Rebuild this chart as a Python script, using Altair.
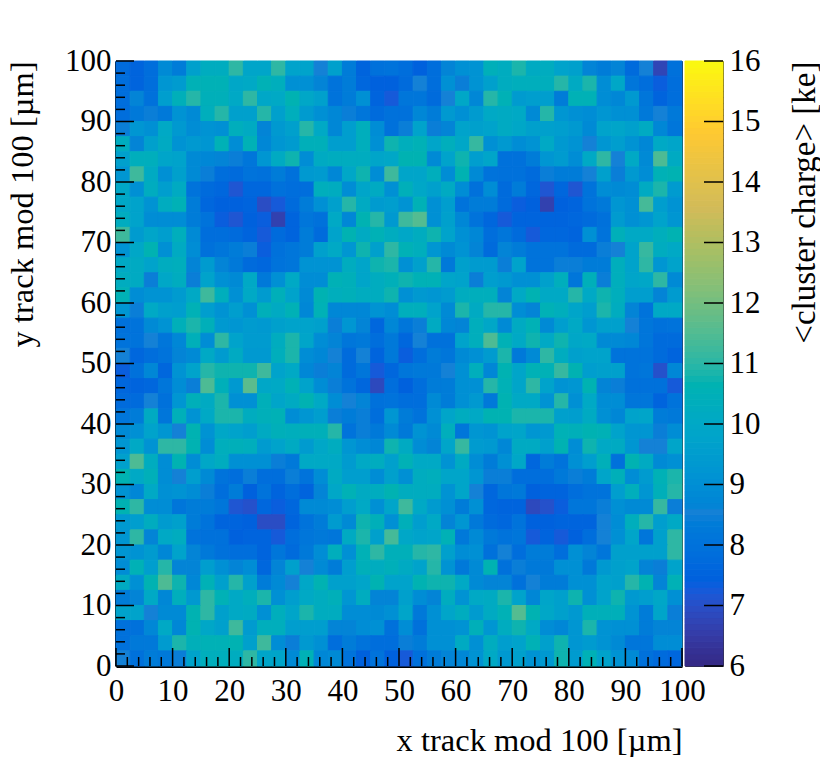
import altair as alt
import pandas as pd

# mean cluster charge in ke, one list per row, top row (y 97.5-100) first
charge_rows = [
    [7.7,7.5,7.8,8.8,8.3,9.6,10.2,10.2,11.0,9.8,9.8,11.0,9.7,9.7,8.5,9.6,8.3,7.5,7.9,8.0, 7.8,7.4,7.8,8.6,9.0,9.1,10.4,10.2,10.8,10.1,10.2,9.7,9.6,8.6,8.3,8.6,7.7,8.5,6.7,7.9],
    [7.8,7.5,7.8,9.2,9.4,10.5,10.5,10.5,9.9,10.0,10.5,10.3,9.0,9.0,8.6,8.0,8.3,7.6,7.4,7.4, 7.7,8.5,7.8,9.0,8.4,9.1,9.6,10.2,10.3,10.3,10.3,10.9,10.1,10.8,8.9,9.9,8.1,7.8,7.3,7.8],
    [7.8,8.6,7.9,9.5,10.4,10.9,10.4,10.4,10.0,11.0,9.9,10.0,10.6,9.9,9.6,8.0,8.3,9.0,7.5,7.2, 8.1,8.1,7.7,8.5,9.9,8.7,10.9,10.5,9.4,9.5,9.5,8.3,10.5,10.5,8.9,8.7,9.3,8.1,7.5,7.8],
    [7.8,8.2,8.4,8.2,9.1,8.8,10.3,10.9,9.6,9.6,10.9,9.6,10.3,9.4,9.0,8.7,8.4,8.1,7.7,7.9, 7.9,8.7,8.3,9.3,9.0,9.4,10.0,10.1,10.0,8.8,10.9,9.2,9.0,8.9,9.2,9.0,9.0,8.2,8.5,8.2],
    [8.4,9.2,9.0,10.0,9.3,8.9,9.1,9.0,10.3,10.1,8.6,9.3,9.6,10.9,10.0,8.7,9.5,10.3,8.9,7.9, 8.4,9.7,8.4,8.6,9.7,9.6,9.7,10.1,9.9,9.6,9.6,9.5,9.3,8.8,9.7,9.8,9.6,10.1,8.7,8.1],
    [10.2,8.6,9.6,10.1,9.1,9.3,9.2,10.5,8.9,10.5,8.7,9.2,9.4,10.4,10.4,9.5,9.5,10.3,9.0,10.7, 10.3,10.5,9.8,10.3,9.9,11.1,9.0,9.3,8.9,9.1,10.0,9.3,9.1,8.5,9.2,9.5,9.1,8.7,10.0,9.8],
    [9.6,10.3,10.3,9.8,9.7,8.8,8.7,8.6,8.4,8.1,9.2,10.1,10.7,8.9,10.1,10.2,10.2,10.2,9.8,9.9, 10.6,10.6,8.8,9.7,10.7,9.5,9.8,7.9,7.9,8.3,9.2,9.4,8.9,10.0,11.0,8.5,10.0,8.8,11.4,10.1],
    [9.2,11.2,10.1,9.0,9.6,8.8,8.4,7.8,7.7,8.0,7.9,8.3,7.9,9.3,9.4,8.7,9.9,10.7,8.9,11.2, 9.8,9.8,10.3,8.9,10.6,8.8,8.0,7.9,7.9,7.7,8.4,8.3,8.3,8.5,9.6,8.4,9.3,8.9,10.5,10.6],
    [9.9,9.0,10.2,9.5,10.1,8.0,7.7,7.6,7.1,7.6,7.6,7.9,7.8,7.8,10.3,10.2,8.9,9.8,10.1,9.0, 10.4,9.9,9.6,10.1,8.9,7.9,8.9,7.7,8.3,7.6,7.1,7.6,7.1,8.0,8.9,8.8,8.9,10.1,10.8,9.4],
    [9.9,9.7,9.1,10.2,10.5,8.3,7.6,7.4,7.4,7.5,6.9,7.2,7.7,8.3,9.0,9.6,10.9,10.1,9.4,9.5, 9.1,10.5,9.0,9.5,8.0,8.3,8.3,7.7,7.3,7.4,6.6,7.4,7.5,8.0,8.2,9.2,9.0,11.3,9.5,9.1],
    [10.2,9.7,8.9,8.9,8.9,8.3,8.0,7.3,7.1,7.4,7.3,6.6,7.5,8.1,7.9,10.0,8.7,10.6,10.9,9.3, 11.2,11.5,9.0,9.6,8.7,8.0,7.6,7.2,7.5,7.5,7.5,7.5,7.6,7.7,7.9,9.4,9.0,9.2,9.7,9.2],
    [11.2,9.4,9.8,9.5,10.3,8.8,7.8,7.8,7.7,7.5,7.2,7.7,7.5,8.3,7.7,9.7,10.6,10.1,10.5,10.2, 9.9,10.2,10.7,9.7,9.0,8.7,7.8,8.1,7.7,7.2,7.6,7.6,7.5,9.0,8.0,10.4,10.0,10.0,10.3,10.6],
    [9.1,9.9,10.6,9.0,10.1,8.9,7.9,8.1,8.3,8.4,7.3,7.9,8.1,8.3,9.6,10.0,9.2,10.7,9.6,11.0, 10.5,10.3,9.2,8.8,9.1,8.6,7.7,8.6,8.3,8.0,8.0,8.0,7.7,7.7,8.4,8.5,9.7,11.1,10.2,10.0],
    [10.0,10.1,9.7,10.2,10.3,8.6,9.4,8.6,8.2,7.7,7.6,8.0,8.1,9.1,9.1,9.1,10.2,9.8,10.7,10.8, 9.0,9.6,10.9,8.2,9.6,9.4,9.4,8.4,9.7,8.0,8.0,8.4,8.4,8.3,8.3,10.3,9.7,11.0,9.2,9.7],
    [10.2,10.1,8.4,9.9,10.2,8.4,9.7,9.0,8.8,10.0,8.2,9.0,10.0,8.9,8.9,10.5,10.4,9.8,10.2,10.4, 10.7,10.5,10.5,9.8,9.7,8.4,9.5,9.3,9.0,9.0,9.6,10.3,8.1,10.4,8.4,10.3,9.8,9.9,11.0,8.8],
    [10.5,8.9,9.1,9.1,9.4,10.0,11.2,10.3,9.0,10.0,9.4,10.4,9.7,8.8,10.6,10.3,10.4,10.2,10.2,10.7, 9.0,9.3,9.2,9.4,10.2,10.3,10.3,8.6,10.0,10.6,10.0,10.0,10.9,10.0,10.7,10.3,9.5,9.5,8.6,9.4],
    [9.2,8.4,10.0,9.6,9.5,10.5,9.5,9.1,9.5,9.0,10.4,10.1,10.5,8.7,10.5,8.7,8.7,8.7,9.1,8.9, 10.3,10.3,9.7,8.8,10.8,10.1,10.9,10.9,8.9,8.6,10.5,10.3,9.8,9.5,10.8,10.2,8.6,8.0,10.0,10.0],
    [7.9,8.0,8.8,9.1,10.4,10.8,10.4,9.3,9.2,9.4,9.3,9.6,9.7,9.7,9.6,8.4,9.2,8.6,7.6,8.7, 8.1,8.4,10.1,8.7,8.6,10.3,9.9,8.8,10.1,10.5,8.8,9.5,10.0,9.2,9.6,9.6,8.5,8.1,7.9,8.0],
    [8.0,8.0,8.5,8.1,8.7,10.4,8.9,11.0,9.7,9.4,9.4,10.2,10.8,9.8,8.9,8.6,8.1,8.2,7.8,8.2, 7.6,8.5,7.9,7.9,9.7,10.3,11.4,10.5,10.0,10.7,10.0,10.7,9.9,10.0,8.8,8.8,8.7,8.1,7.7,7.7],
    [8.5,7.6,7.8,8.0,8.6,8.8,10.0,9.4,10.1,9.3,9.3,10.3,10.8,8.9,8.7,8.5,7.7,8.5,7.5,8.2, 7.3,7.8,8.3,8.1,8.8,9.0,9.4,10.8,8.2,8.8,11.0,10.2,9.6,9.7,9.7,8.0,8.0,8.0,7.7,7.5],
    [7.3,7.9,8.7,7.6,9.1,9.7,10.9,10.7,10.7,10.7,11.2,9.7,10.0,8.7,8.4,8.6,7.7,8.1,7.2,7.6, 8.1,8.2,8.2,8.5,9.0,10.3,8.7,10.6,9.8,10.5,10.5,11.1,10.6,9.5,9.6,9.6,8.0,8.1,7.0,8.7],
    [7.6,7.5,7.6,8.1,8.9,8.4,11.4,10.4,9.3,11.6,9.9,10.0,10.5,9.7,8.9,8.4,8.0,7.6,6.8,7.8, 7.4,7.8,8.3,8.3,9.0,9.0,10.9,10.5,9.8,11.0,9.7,9.1,9.2,10.6,8.6,8.4,7.9,7.9,7.9,7.2],
    [7.7,7.7,8.5,7.9,9.2,10.4,10.1,10.8,9.0,9.0,10.4,9.8,10.1,10.6,10.0,8.9,8.5,8.6,7.9,8.0, 7.8,7.8,8.8,8.3,9.0,9.3,8.2,10.6,10.0,10.0,9.1,10.9,9.0,10.0,8.9,8.9,8.1,8.1,7.5,8.0],
    [8.1,8.3,10.1,8.1,10.4,9.1,10.0,10.8,10.8,10.2,10.4,10.5,8.9,9.2,9.5,8.4,8.3,8.4,7.8,9.2, 8.3,8.0,9.0,9.8,10.2,10.0,10.6,10.6,10.8,10.8,10.8,9.6,9.5,10.1,9.0,8.7,9.7,9.8,8.3,8.2],
    [8.8,9.0,9.7,9.2,8.5,10.6,9.1,9.9,9.7,9.5,10.1,10.4,10.3,10.4,10.4,10.9,8.0,8.4,8.2,8.8, 8.2,9.1,8.8,10.3,8.1,9.2,9.1,9.7,9.8,9.2,9.3,10.5,10.4,10.6,10.5,9.7,9.2,9.2,8.4,8.9],
    [9.2,10.0,9.1,11.0,11.0,10.6,8.9,10.3,10.4,10.3,9.4,9.7,10.1,9.4,9.9,10.2,9.2,8.9,8.7,10.7, 10.1,8.9,8.6,9.8,11.1,9.4,9.3,8.7,10.1,10.1,9.6,10.6,8.9,10.7,10.0,10.1,9.2,8.5,8.5,9.8],
    [9.6,11.4,10.2,8.9,10.6,8.9,9.9,10.2,9.0,9.0,9.0,8.4,8.2,10.0,10.0,10.0,9.4,10.0,10.2,9.6, 10.5,10.0,10.0,9.1,10.1,8.9,8.3,9.0,9.9,7.6,8.3,8.0,9.0,9.5,10.4,7.9,10.6,10.1,8.8,9.0],
    [10.6,10.0,10.4,8.9,8.5,9.5,8.8,8.0,7.8,8.4,7.8,7.8,8.4,8.0,8.9,10.1,9.5,9.5,8.9,9.6, 9.0,10.2,10.3,9.8,9.8,9.2,8.4,8.4,7.8,7.8,7.8,8.2,8.4,8.3,9.8,10.4,8.9,9.4,10.5,10.8],
    [9.1,8.7,10.0,9.0,9.1,8.9,8.4,7.8,8.3,7.4,8.0,7.5,7.8,7.5,8.6,9.9,10.5,10.1,10.2,10.6, 10.2,10.2,10.2,9.1,9.8,8.5,7.6,8.1,8.2,7.4,7.5,7.5,7.8,8.0,8.0,9.5,10.3,9.2,10.4,10.9],
    [10.6,11.0,8.9,8.9,8.1,8.3,8.3,8.1,7.1,7.0,7.6,7.3,7.6,8.8,8.8,8.9,9.5,10.0,9.0,9.8, 11.2,10.0,9.4,9.0,8.3,9.0,7.6,7.5,7.5,6.8,7.0,7.3,8.1,8.1,8.4,9.0,8.8,8.8,11.1,8.4],
    [9.3,9.5,10.2,9.4,9.6,8.3,8.0,7.5,7.5,7.4,6.9,6.9,7.5,8.0,8.3,9.4,8.8,10.7,10.4,9.0, 10.4,9.5,10.0,8.6,9.2,8.2,7.7,7.6,8.0,7.4,7.4,7.5,7.5,7.5,8.5,8.9,10.3,10.9,9.5,10.0],
    [9.2,11.0,8.6,10.0,10.2,8.0,7.9,7.9,7.4,7.5,7.5,7.2,7.8,8.1,8.2,8.1,10.1,10.8,9.6,11.3, 9.9,9.7,9.8,10.5,8.2,8.8,8.2,8.0,8.1,7.2,7.5,7.2,7.4,7.8,8.5,9.0,9.8,8.1,9.6,11.0],
    [9.2,9.1,9.4,8.7,9.7,8.6,8.2,7.9,7.8,7.8,7.5,8.1,7.7,8.2,8.9,10.3,9.0,10.5,11.0,10.4, 10.4,10.9,11.0,9.6,8.9,9.0,7.9,8.5,7.8,8.3,8.3,7.8,9.0,8.6,8.1,9.6,9.6,9.6,9.6,11.0],
    [8.9,10.5,9.5,10.9,8.6,8.6,9.5,9.0,8.6,8.9,7.6,8.6,9.6,8.5,8.8,8.3,9.5,10.4,10.2,10.4, 10.1,9.7,10.9,9.1,8.2,8.8,10.6,7.9,8.4,8.2,8.2,9.0,9.0,8.2,9.3,9.6,9.7,8.6,8.4,9.7],
    [10.1,9.0,10.6,11.4,10.7,8.7,10.5,9.6,10.9,9.6,8.3,8.8,8.5,9.9,10.6,9.6,9.6,9.8,10.6,9.7, 9.7,10.6,10.7,10.7,10.0,8.8,8.6,8.6,7.9,8.5,8.3,8.3,9.0,9.0,9.7,9.6,10.9,10.6,8.6,10.5],
    [8.3,8.6,10.0,8.7,10.3,9.3,11.0,10.5,10.0,10.3,10.8,9.0,9.5,10.0,10.2,10.4,9.2,10.2,8.6,8.6, 9.6,8.9,8.6,10.2,9.1,10.0,10.1,10.8,9.7,8.7,9.8,9.6,10.7,9.0,9.7,10.7,9.3,9.5,9.9,9.0],
    [9.7,9.7,8.5,8.8,8.8,10.6,11.0,9.6,10.0,10.1,9.0,10.3,9.8,10.8,10.2,10.2,8.9,8.9,8.8,9.0, 9.8,8.2,9.0,9.8,10.2,9.4,10.1,10.5,11.5,10.6,9.9,9.6,9.3,10.4,10.4,10.4,9.1,8.3,9.8,8.4],
    [7.9,7.9,8.7,10.0,8.7,10.6,9.9,9.6,11.2,9.4,10.3,10.3,9.5,9.5,9.5,8.6,8.6,8.9,9.0,7.9, 8.9,7.9,9.0,9.0,9.1,10.4,9.2,10.2,10.7,10.0,8.9,8.7,9.2,10.8,9.1,9.0,9.0,8.3,8.6,8.6],
    [7.9,8.2,8.2,9.4,10.8,10.4,10.5,10.5,10.6,9.6,11.2,8.9,8.4,9.3,9.0,7.8,8.3,8.0,7.8,7.8, 8.4,8.3,9.0,9.0,10.1,9.0,10.2,9.5,9.7,10.5,9.6,10.7,9.2,9.4,9.1,8.8,8.1,8.1,8.9,8.9],
    [8.5,7.9,8.3,8.2,8.4,9.7,10.3,10.3,10.2,11.0,9.8,9.8,8.8,10.5,8.7,8.8,8.0,7.4,8.0,7.4, 7.2,7.9,8.3,8.6,8.7,9.1,10.0,9.3,9.6,9.1,9.3,10.7,9.4,10.5,9.7,9.1,8.8,7.9,7.7,7.6],
]

bin_size = 2.5
axis_ticks = [0, 10, 20, 30, 40, 50, 60, 70, 80, 90, 100]
minor_ticks = [t for t in range(0, 101, 2) if t % 10 != 0]
bar_ticks = [6, 7, 8, 9, 10, 11, 12, 13, 14, 15, 16]

# ROOT kBird palette stops
palette_values = [6, 7.25, 8.5, 9.75, 11, 12.25, 13.5, 14.75, 16]
palette_colors = ["#352a87", "#0f5cdd", "#1481d6", "#06a4ca", "#2eb7a4",
                  "#87bf77", "#d1bb59", "#fec832", "#f9fb0e"]

PLOT_W = 566
PLOT_H = 605
BAR_W = 38
FONT = "Liberation Serif"

cells = []
for r, row in enumerate(charge_rows):
    for c, val in enumerate(row):
        cells.append({
            "x0": c * bin_size,
            "x1": (c + 1) * bin_size,
            "y1": 100 - r * bin_size,
            "y0": 100 - (r + 1) * bin_size,
            "charge": val,
        })
df = pd.DataFrame(cells)

color_scale = alt.Scale(domain=palette_values, range=palette_colors)
xs = alt.Scale(domain=[0, 100], nice=False)
ys = alt.Scale(domain=[0, 100], nice=False)
bs = alt.Scale(domain=[6, 16], nice=False)

x_title = "x track mod 100 [µm]"
y_title = "y track mod 100 [µm]"
bar_title = "<cluster charge> [ke]"

x_axis = alt.Axis(values=axis_ticks, format="d", ticks=False, grid=False,
                  domainWidth=3, domainColor="black", labelPadding=10,
                  labelFlush=False, labelOverlap=False, titleFontSize=32.5,
                  titleAnchor="end", titlePadding=18)
y_axis = alt.Axis(values=axis_ticks, format="d", ticks=False, grid=False,
                  domainWidth=3, domainColor="black", labelPadding=5,
                  labelFlush=False, labelOverlap=False, titleFontSize=32.5,
                  titleAnchor="end", titlePadding=25)
bar_axis = alt.Axis(orient="right", values=bar_ticks, format="d", ticks=False,
                    grid=False, domain=False, labelPadding=6,
                    labelFlush=False, labelOverlap=False, titleFontSize=33,
                    titleAnchor="end", titleAngle=270, titlePadding=61)

heat = alt.Chart(df).mark_rect(strokeWidth=1).encode(
    x=alt.X("x0:Q", scale=xs, title=x_title, axis=x_axis),
    x2="x1:Q",
    y=alt.Y("y0:Q", scale=ys, title=y_title, axis=y_axis),
    y2="y1:Q",
    color=alt.Color("charge:Q", scale=color_scale, legend=None),
    stroke=alt.Color("charge:Q", scale=color_scale, legend=None),
)


def x_tick_rules(ticks, length):
    return alt.Chart(pd.DataFrame({"t": ticks})).mark_rule(color="black", strokeWidth=1.5).encode(
        x=alt.X("t:Q", scale=xs, title=x_title, axis=x_axis),
        y=alt.value(PLOT_H),
        y2=alt.value(PLOT_H - length),
    )


def y_tick_rules(ticks, length):
    return alt.Chart(pd.DataFrame({"t": ticks})).mark_rule(color="black", strokeWidth=1.5).encode(
        y=alt.Y("t:Q", scale=ys, title=y_title, axis=y_axis),
        x=alt.value(0),
        x2=alt.value(length),
    )


main = alt.layer(
    heat,
    x_tick_rules(axis_ticks, 18),
    x_tick_rules(minor_ticks, 9),
    y_tick_rules(axis_ticks, 18),
    y_tick_rules(minor_ticks, 9),
).properties(width=PLOT_W, height=PLOT_H)

# colour bar, one thin cell per palette step
bar_levels = [6 + i * 0.1 for i in range(100)]
bar_df = pd.DataFrame({"lo": bar_levels, "hi": [v + 0.1 for v in bar_levels]})

bar_cells = alt.Chart(bar_df).mark_rect(strokeWidth=1).encode(
    y=alt.Y("lo:Q", scale=bs, title=bar_title, axis=bar_axis),
    y2="hi:Q",
    color=alt.Color("lo:Q", scale=color_scale, legend=None),
    stroke=alt.Color("lo:Q", scale=color_scale, legend=None),
)
bar_marks = alt.Chart(pd.DataFrame({"t": bar_ticks})).mark_rule(color="black", strokeWidth=1.5).encode(
    y=alt.Y("t:Q", scale=bs, title=bar_title, axis=bar_axis),
    x=alt.value(BAR_W - 19),
    x2=alt.value(BAR_W),
)
colorbar = alt.layer(bar_cells, bar_marks).properties(width=BAR_W, height=PLOT_H)

chart = alt.hconcat(main, colorbar, spacing=3, bounds="flush").resolve_scale(color="shared").configure_view(
    stroke="#333333", strokeWidth=1
).configure_axis(
    labelFont=FONT, titleFont=FONT, labelFontSize=31,
    labelColor="black", titleColor="black", titleFontWeight="normal",
).properties(background="white", padding={"left": -3, "top": 36, "right": -2, "bottom": 0})

chart.save("out.html", embed_options={"renderer": "svg", "actions": False})
